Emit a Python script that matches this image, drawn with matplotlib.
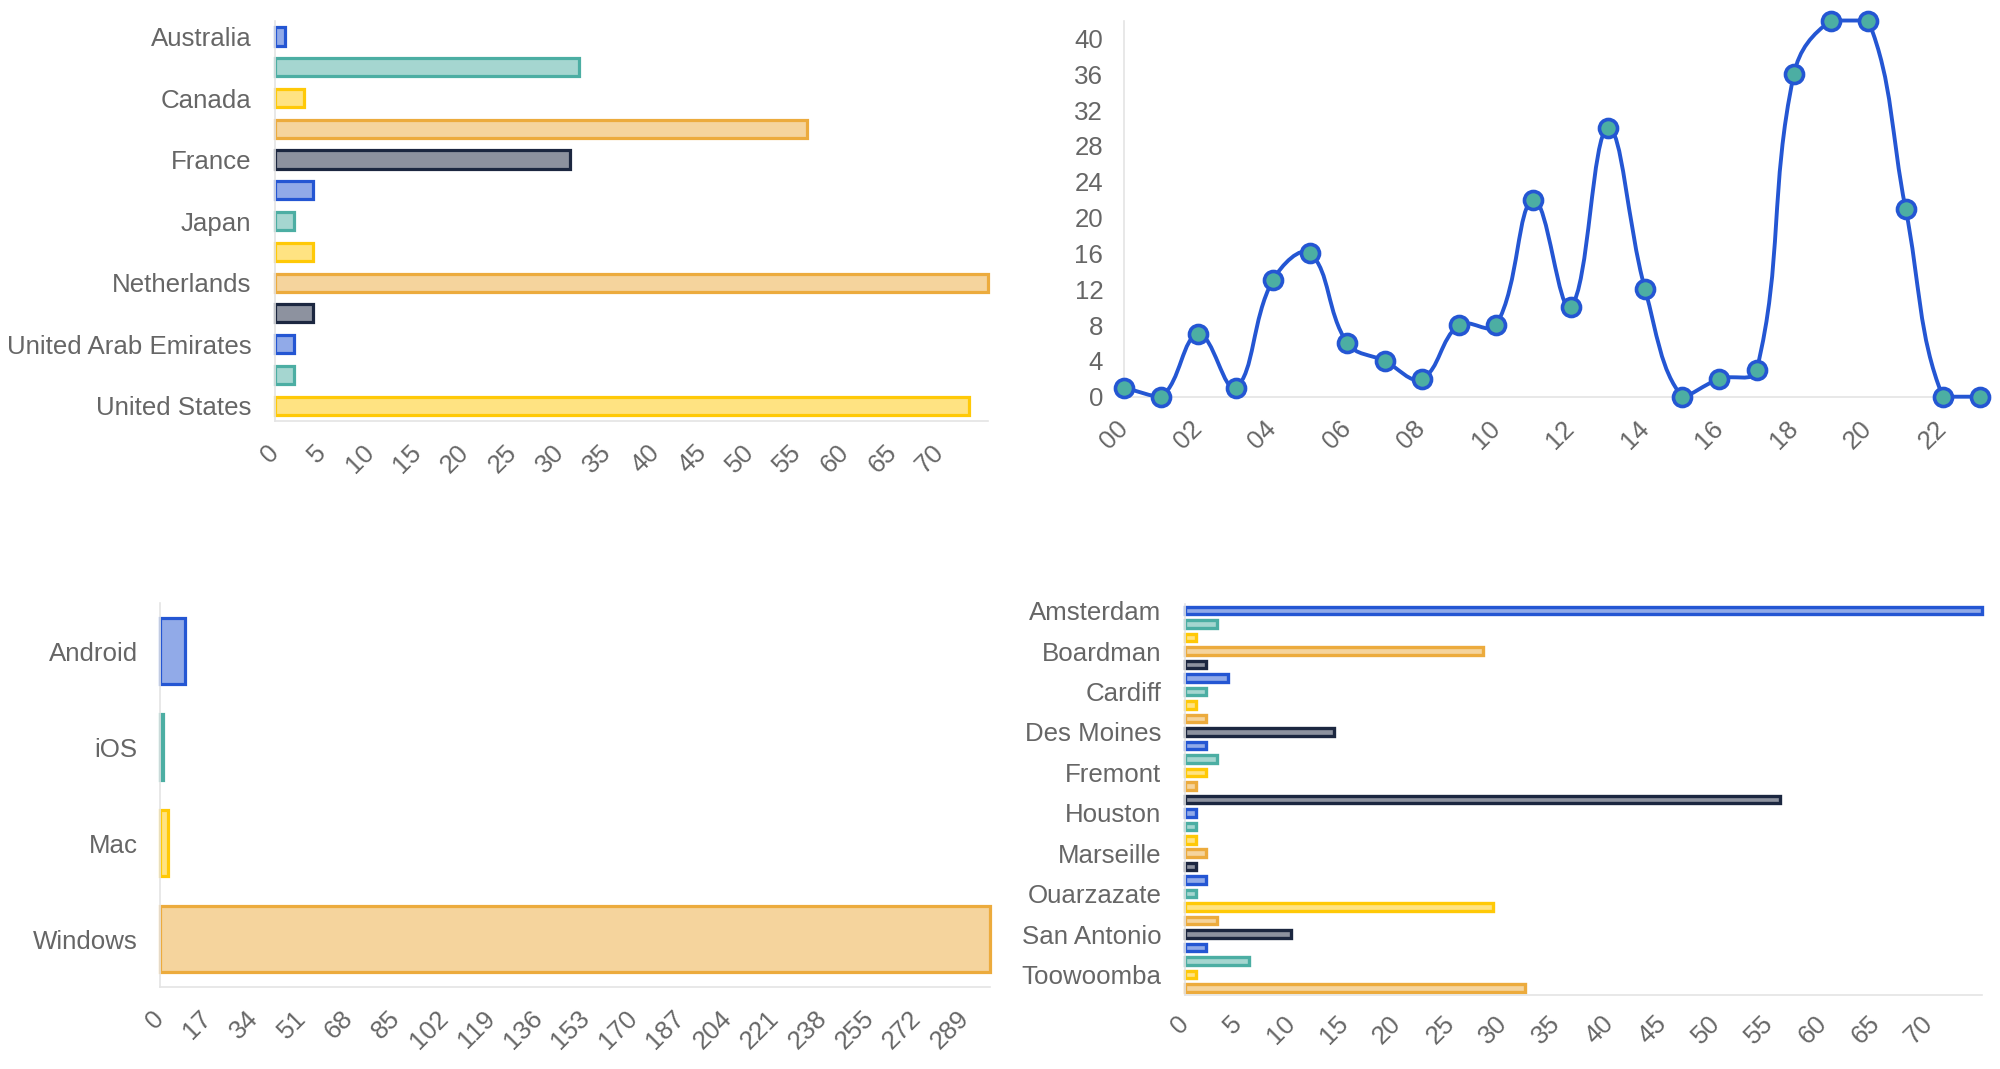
import numpy as np
import matplotlib
matplotlib.use("Agg")
import matplotlib.pyplot as plt
from matplotlib.path import Path
from matplotlib.patches import PathPatch
from matplotlib.colors import to_rgba

plt.rcParams['font.family'] = ['Liberation Sans', 'DejaVu Sans']

# ---------------- data ----------------
palette = ["#2456d3", "#4caea3", "#ffc907", "#ecab3d", "#1c2740"]

country_labels = ["Australia", "Canada", "France", "Japan", "Netherlands",
                  "United Arab Emirates", "United States"]
country_values = [1, 32, 3, 56, 31, 4, 2, 4, 75, 4, 2, 2, 73]
country_ticks = list(range(0, 71, 5))

hour_labels = ["00", "01", "02", "03", "04", "05", "06", "07", "08", "09", "10", "11",
               "12", "13", "14", "15", "16", "17", "18", "19", "20", "21", "22", "23"]
hour_values = [1, 0, 7, 1, 13, 16, 6, 4, 2, 8, 8, 22, 10, 30, 12, 0, 2, 3, 36, 42, 42, 21, 0, 0]
hour_yticks = list(range(0, 41, 4))

os_labels = ["Android", "iOS", "Mac", "Windows"]
os_values = [9, 1, 3, 298]
os_ticks = list(range(0, 290, 17))

city_labels = ["Amsterdam", "Boardman", "Cardiff", "Des Moines", "Fremont", "Houston",
               "Marseille", "Ouarzazate", "San Antonio", "Toowoomba"]
city_values = [75, 3, 1, 28, 2, 4, 2, 1, 2, 14, 2, 3, 2, 1, 56, 1, 1, 1, 2, 1,
               2, 1, 29, 3, 10, 2, 6, 1, 32]
city_ticks = list(range(0, 71, 5))

# ---------------- style ----------------
TXT = "#666666"
AXC = "#e4e4e4"
FS = 18.6

fig = plt.figure(figsize=(20, 10.69), dpi=100)


def style(ax):
    for s in ("top", "right"):
        ax.spines[s].set_visible(False)
    for s in ("left", "bottom"):
        ax.spines[s].set_color(AXC)
        ax.spines[s].set_linewidth(1.2)
    ax.tick_params(length=0, colors=TXT, labelsize=FS)


def rot_xlabels(ax, pad):
    ax.tick_params(axis="x", pad=pad)
    for lab in ax.get_xticklabels():
        lab.set_rotation(45)
        lab.set_ha("right")
        lab.set_va("center")
        lab.set_rotation_mode("anchor")


def hbars(ax, values, xmax, height, lw, label_every, labels, ticks, ypad, xpad):
    n = len(values)
    pos = np.arange(n)
    edges = [palette[i % 5] for i in range(n)]
    faces = [to_rgba(c, 0.5) for c in edges]
    bars = ax.barh(pos, values, height=height, color=faces, edgecolor=edges, linewidth=lw)
    for b in bars:
        b.set_clip_on(False)
    ax.set_ylim(n - 0.5, -0.5)
    ax.set_xlim(0, xmax)
    ax.set_yticks(pos[::label_every][:len(labels)])
    ax.set_yticklabels(labels)
    ax.set_xticks(ticks)
    ax.set_xticklabels([str(t) for t in ticks])
    style(ax)
    ax.tick_params(axis="y", pad=ypad)
    rot_xlabels(ax, xpad)


# ---- top-left: countries ----
ax1 = fig.add_axes([0.1375, 0.6062, 0.494 - 0.1375, 0.9802 - 0.6062])
hbars(ax1, country_values, 75, 0.59, 2.3, 2, country_labels, country_ticks, 17, 20)

# ---- top-right: hours line ----
ax2 = fig.add_axes([0.562, 0.6289, 0.990 - 0.562, 0.9808 - 0.6289])
xs = np.arange(len(hour_values))
ax2.set_xlim(0, len(hour_values) - 1)
ax2.set_ylim(0, 42)
style(ax2)
ax2.set_yticks(hour_yticks)
ax2.set_xticks(xs[::2])
ax2.set_xticklabels(hour_labels[::2])
ax2.tick_params(axis="y", pad=15)
rot_xlabels(ax2, 20)


def chartjs_curve(ax, x, y, t=0.4):
    pts = ax.transData.transform(np.column_stack([x, y]).astype(float))
    n = len(pts)
    prv = np.zeros_like(pts)
    nxt = np.zeros_like(pts)
    for i in range(n):
        p0 = pts[max(i - 1, 0)]
        p1 = pts[i]
        p2 = pts[min(i + 1, n - 1)]
        d01 = np.hypot(*(p1 - p0))
        d12 = np.hypot(*(p2 - p1))
        tot = d01 + d12
        s01 = d01 / tot if tot else 0.0
        s12 = d12 / tot if tot else 0.0
        prv[i] = p1 - t * s01 * (p2 - p0)
        nxt[i] = p1 + t * s12 * (p2 - p0)
    bb = ax.bbox
    for arr in (prv, nxt):
        arr[:, 0] = np.clip(arr[:, 0], bb.x0, bb.x1)
        arr[:, 1] = np.clip(arr[:, 1], bb.y0, bb.y1)
    verts = [pts[0]]
    codes = [Path.MOVETO]
    for i in range(n - 1):
        verts += [nxt[i], prv[i + 1], pts[i + 1]]
        codes += [Path.CURVE4] * 3
    verts = ax.transData.inverted().transform(np.array(verts))
    return Path(verts, codes)


path = chartjs_curve(ax2, xs, hour_values)
ax2.add_patch(PathPatch(path, facecolor="none", edgecolor=palette[0], lw=2.8,
                        clip_on=False, zorder=3))
ax2.plot(xs, hour_values, linestyle="none", marker="o", markersize=13,
         markerfacecolor=palette[1], markeredgecolor=palette[0], markeredgewidth=2.6,
         clip_on=False, zorder=4)

# ---- bottom-left: OS ----
ax3 = fig.add_axes([0.08, 0.0767, 0.495 - 0.08, 0.4359 - 0.0767])
hbars(ax3, os_values, 298, 0.68, 2.3, 1, os_labels, os_ticks, 16, 20)

# ---- bottom-right: cities ----
ax4 = fig.add_axes([0.5925, 0.0695, 0.991 - 0.5925, 0.435 - 0.0695])
hbars(ax4, city_values, 75, 0.56, 2.4, 3, city_labels, city_ticks, 17, 18)

fig.savefig("out.png", dpi=100, facecolor="white")
